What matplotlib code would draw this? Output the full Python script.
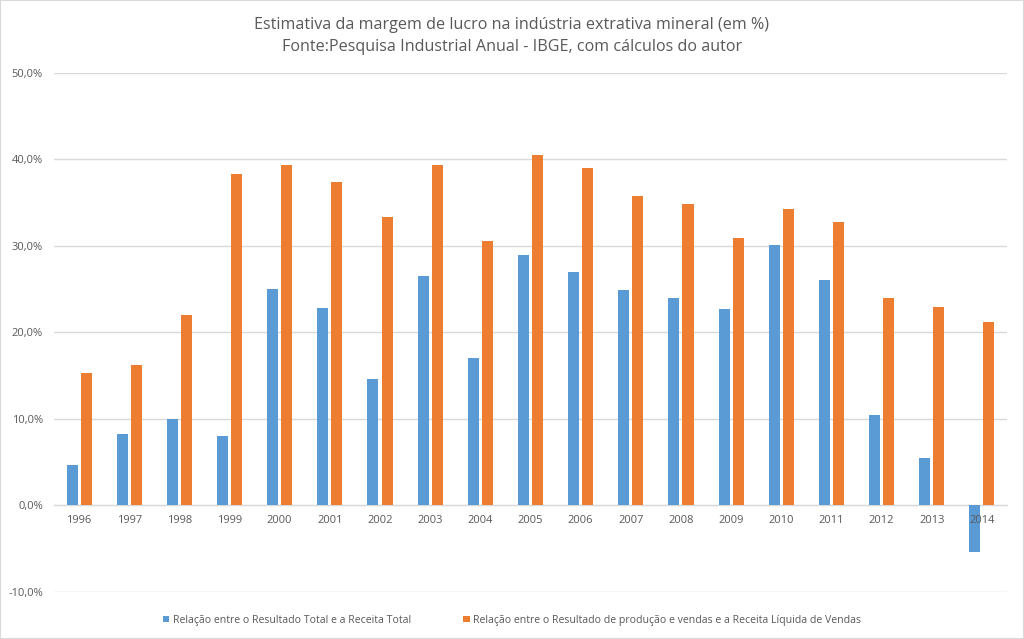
import numpy as np
import matplotlib
matplotlib.use("Agg")
import matplotlib.pyplot as plt
from matplotlib.patches import Rectangle
from matplotlib.ticker import FuncFormatter

anos = ["1996", "1997", "1998", "1999", "2000", "2001", "2002", "2003", "2004", "2005",
        "2006", "2007", "2008", "2009", "2010", "2011", "2012", "2013", "2014"]
resultado_total = [4.7, 8.3, 10.0, 8.0, 25.0, 22.8, 14.6, 26.5, 17.1, 28.9,
                   27.0, 24.9, 24.0, 22.7, 30.1, 26.1, 10.5, 5.5, -5.4]
resultado_producao = [15.3, 16.2, 22.0, 38.3, 39.4, 37.4, 33.4, 39.4, 30.6, 40.5,
                      39.0, 35.8, 34.8, 30.9, 34.3, 32.8, 24.0, 22.9, 21.2]
nome_1 = "Relação entre o Resultado Total e a Receita Total"
nome_2 = "Relação entre o Resultado de produção e vendas e a Receita Líquida de Vendas"
titulo = "Estimativa da margem de lucro na indústria extrativa mineral (em %)\nFonte:Pesquisa Industrial Anual - IBGE, com cálculos do autor"

plt.rcParams['font.family'] = ['Open Sans', 'DejaVu Sans']
cinza = "#595959"

fig = plt.figure(figsize=(10.24, 6.39), dpi=100)
ax = fig.add_axes([0.0527, 0.0736, 0.9307, 0.8122])

x = np.arange(len(anos))
larg = 0.22
ax.bar(x - 0.14, resultado_total, larg, color="#5B9BD5", label=nome_1, zorder=3)
ax.bar(x + 0.14, resultado_producao, larg, color="#ED7D31", label=nome_2, zorder=3)

ax.set_xlim(-0.5, len(anos) - 0.5)
ax.set_ylim(-10, 50)
ax.set_yticks([-10, 0, 10, 20, 30, 40, 50])
ax.yaxis.set_major_formatter(FuncFormatter(lambda v, p: ("%.1f%%" % v).replace(".", ",")))
ax.grid(axis="y", color="#D9D9D9", linewidth=1)
ax.set_xticks(x)
ax.set_xticklabels(anos)
for s in ["top", "right", "left"]:
    ax.spines[s].set_visible(False)
ax.spines["bottom"].set_position(("data", 0))
ax.spines["bottom"].set_color("#D9D9D9")
ax.spines["bottom"].set_zorder(1)
ax.yaxis.set_zorder(0.5)
ax.xaxis.set_zorder(4)
ax.tick_params(axis="both", length=0, colors=cinza, labelsize=8)
ax.tick_params(axis="x", pad=7)
ax.tick_params(axis="y", pad=8)

fig.suptitle(titulo, y=0.973, fontsize=11.6, color=cinza, linespacing=1.5)

fig.legend(loc="lower center", bbox_to_anchor=(0.5, 0.006), ncol=2, frameon=False,
           fontsize=7.6, handlelength=0.6, handleheight=0.6, handletextpad=0.3,
           columnspacing=5, labelcolor=cinza)

fig.patches.append(Rectangle((0, 0), 1, 1, transform=fig.transFigure, fill=False,
                             edgecolor="#D9D9D9", linewidth=1.5))

fig.savefig("out.png", dpi=100)
